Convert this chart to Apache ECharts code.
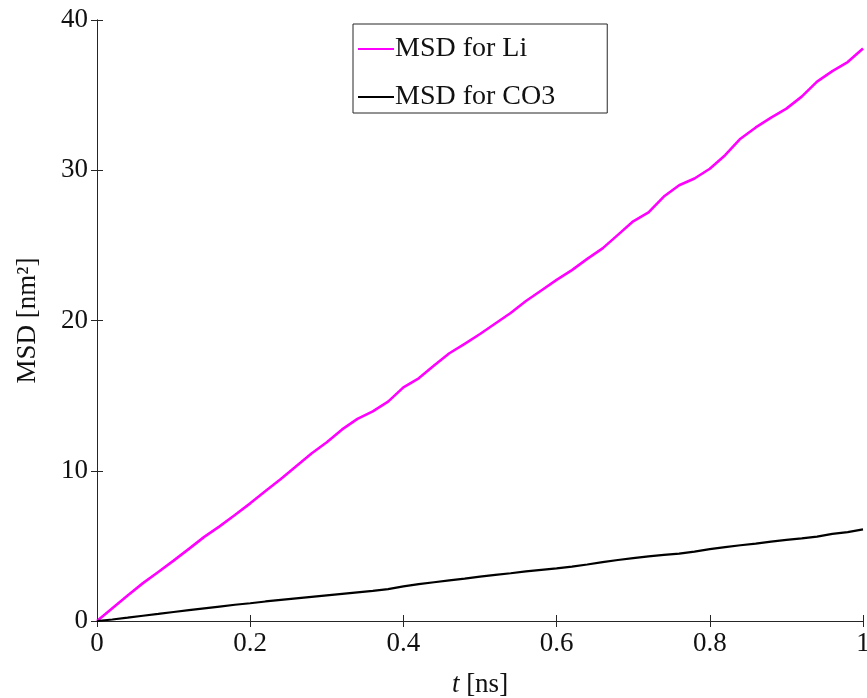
<!DOCTYPE html>
<html><head><meta charset="utf-8">
<script src="https://cdn.jsdelivr.net/npm/echarts@6/dist/echarts.min.js"></script>
<style>html,body{margin:0;padding:0;background:#fff}#c{width:867px;height:698px}</style>
</head><body><div id="c"></div>
<script>
const tValues = [0,0.02,0.04,0.06,0.08,0.10,0.12,0.14,0.16,0.18,0.20,0.22,0.24,0.26,0.28,0.30,0.32,0.34,0.36,0.38,0.40,0.42,0.44,0.46,0.48,0.50,0.52,0.54,0.56,0.58,0.60,0.62,0.64,0.66,0.68,0.70,0.72,0.74,0.76,0.78,0.80,0.82,0.84,0.86,0.88,0.90,0.92,0.94,0.96,0.98,1.00];
const msdLi = [0,0.85,1.7,2.52,3.26,4.02,4.8,5.6,6.3,7.05,7.83,8.65,9.45,10.3,11.15,11.9,12.75,13.45,13.95,14.6,15.55,16.15,17.0,17.82,18.45,19.1,19.8,20.5,21.3,22.0,22.7,23.35,24.1,24.8,25.7,26.6,27.2,28.25,29.0,29.45,30.1,31.0,32.1,32.85,33.5,34.1,34.9,35.9,36.6,37.2,38.1];
const msdCO3 = [0,0.1,0.22,0.35,0.47,0.6,0.72,0.84,0.96,1.08,1.18,1.3,1.4,1.5,1.6,1.7,1.8,1.9,2.0,2.12,2.3,2.45,2.58,2.7,2.82,2.95,3.07,3.18,3.3,3.4,3.5,3.62,3.76,3.92,4.06,4.18,4.3,4.4,4.48,4.62,4.78,4.92,5.04,5.15,5.28,5.4,5.5,5.62,5.8,5.92,6.1];
const xTicks = [0,0.2,0.4,0.6,0.8,1];
const yTicks = [0,10,20,30,40];
const seriesNames = ['MSD for Li','MSD for CO3'];

const FONT = 'Liberation Serif';
const axisLine = {show:true, lineStyle:{color:'#262626', width:1}};
const tick = {show:true, inside:true, length:6, lineStyle:{color:'#262626'}};
const chart = echarts.init(document.getElementById('c'));
chart.setOption({
  animation:false,
  backgroundColor:'#fff',
  grid:{left:97, right:4, top:20, bottom:77, containLabel:false, outerBoundsMode:'none'},
  legend:{
    left:353, top:24, orient:'vertical',
    data:seriesNames,
    icon:'rect', itemWidth:36, itemHeight:2, itemGap:20,
    borderColor:'#262626', borderWidth:1, padding:[11,52,2,5],
    textStyle:{fontFamily:FONT, fontSize:28, color:'#111', padding:[0,0,0,-4]}
  },
  xAxis:[{
    type:'value', min:0, max:1, interval:0.2,
    axisLine:axisLine, axisTick:tick, splitLine:{show:false},
    axisLabel:{fontFamily:FONT, fontSize:27, color:'#111', margin:9,
      formatter:v=>{const i=xTicks.indexOf(+v.toFixed(2)); return i>=0?String(xTicks[i]):'';}},
    name:'{i|t} [ns]', nameLocation:'middle', nameGap:50,
    nameTextStyle:{fontFamily:FONT, fontSize:27, color:'#111', rich:{i:{fontFamily:FONT,fontSize:27,fontStyle:'italic',color:'#111'}}}
  },{
    type:'value', min:0, max:1, interval:0.2, position:'top',
    axisLine:axisLine, axisTick:tick, axisLabel:{show:false}, splitLine:{show:false}
  }],
  yAxis:[{
    type:'value', min:0, max:40, interval:10,
    axisLine:axisLine, axisTick:tick, splitLine:{show:false},
    axisLabel:{fontFamily:FONT, fontSize:27, color:'#111', margin:9},
    name:'MSD [nm²]', nameLocation:'middle', nameGap:56, nameRotate:90,
    nameTextStyle:{fontFamily:FONT, fontSize:27, color:'#111'}
  },{
    type:'value', min:0, max:40, interval:10, position:'right',
    axisLine:axisLine, axisTick:tick, axisLabel:{show:false}, splitLine:{show:false}
  }],
  series:[{
    name:seriesNames[0], type:'line', showSymbol:false, symbol:'none',
    data:tValues.map((t,i)=>[t,msdLi[i]]),
    lineStyle:{color:'#ff00ff', width:2.6}, itemStyle:{color:'#ff00ff'}
  },{
    name:seriesNames[1], type:'line', showSymbol:false, symbol:'none',
    data:tValues.map((t,i)=>[t,msdCO3[i]]),
    lineStyle:{color:'#000', width:2.2}, itemStyle:{color:'#000'}
  }]
});
</script></body></html>
